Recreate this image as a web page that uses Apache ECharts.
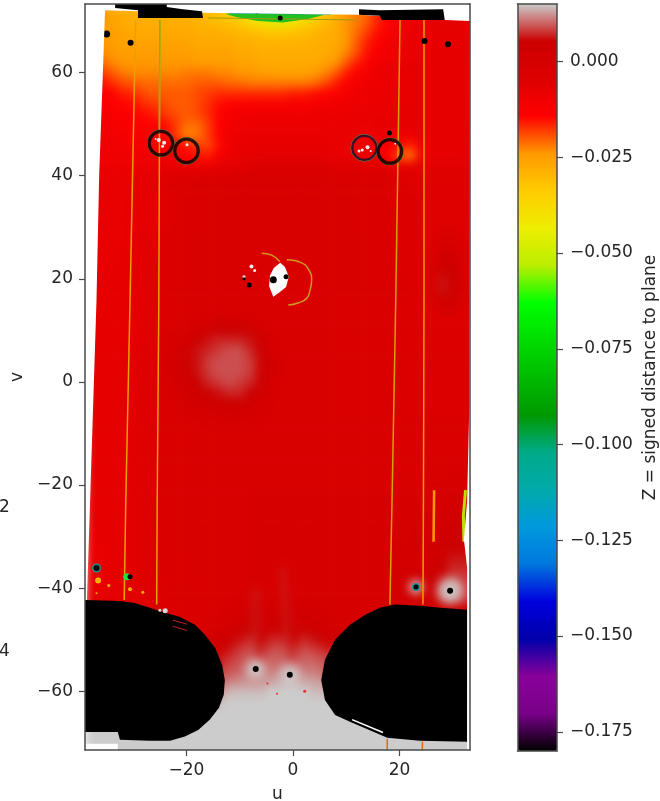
<!DOCTYPE html>
<html><head><meta charset="utf-8">
<style>html,body{margin:0;padding:0;background:#fff}#c{width:660px;height:801px}</style>
<script src="https://cdn.jsdelivr.net/npm/echarts@6/dist/echarts.min.js"></script>
</head><body><div id="c"></div>
<script>
// Tick labels
const uTicks=[-20,0,20];
const vTicks=[-60,-40,-20,0,20,40,60];
const zTicks=[-0.175,-0.15,-0.125,-0.1,-0.075,-0.05,-0.025,0];
// Z field, in thousandths. Columns are u=-38,-36..34; rows v=72,70..-76
const uStart=-38, vStart=72, cellStep=2;
const zMilli=[
[-24,-24,-26,-27,-28,-28,-28,-28,-28,-28,-29,-30,-32,-34,-36,-40,-44,-48,-48,-44,-40,-36,-32,-28,-24,-22,-20,-16,-13,-11,-9,-8,-7,-7,-7,-7,-7],
[-24,-24,-26,-27,-28,-28,-28,-28,-28,-28,-29,-30,-31,-32,-34,-38,-42,-46,-46,-42,-38,-34,-31,-28,-24,-22,-20,-16,-13,-11,-9,-8,-7,-7,-7,-7,-7],
[-24,-24,-25,-26,-27,-27,-27,-27,-27,-27,-28,-28,-28,-29,-30,-31,-32,-33,-33,-32,-31,-30,-28,-27,-24,-21,-18,-15,-12,-10,-9,-8,-7,-7,-7,-7,-7],
[-24,-24,-25,-26,-26,-26,-26,-26,-26,-26,-27,-27,-27,-27,-28,-28,-29,-29,-29,-29,-29,-28,-28,-27,-24,-20,-16,-13,-11,-9,-8,-8,-7,-7,-7,-7,-7],
[-23,-23,-24,-25,-25,-25,-25,-25,-25,-25,-26,-26,-26,-26,-27,-27,-28,-28,-28,-28,-28,-28,-27,-26,-23,-19,-15,-12,-10,-9,-8,-8,-7,-7,-7,-7,-7],
[-21,-21,-23,-24,-24,-24,-24,-24,-24,-24,-25,-25,-25,-25,-26,-26,-27,-27,-27,-27,-27,-27,-26,-24,-20,-16,-13,-11,-9,-8,-8,-7,-7,-7,-7,-7,-7],
[-18,-18,-20,-22,-23,-23,-23,-23,-23,-22,-22,-22,-23,-23,-24,-24,-25,-26,-26,-26,-26,-25,-23,-20,-16,-13,-11,-9,-8,-8,-7,-7,-7,-7,-7,-7,-7],
[-15,-15,-17,-19,-20,-21,-21,-21,-21,-21,-20,-20,-20,-21,-21,-22,-22,-22,-22,-22,-22,-21,-19,-16,-13,-11,-10,-9,-8,-8,-7,-7,-7,-7,-7,-7,-7],
[-13,-13,-14,-16,-17,-19,-20,-20,-20,-20,-19,-18,-17,-17,-17,-17,-17,-17,-17,-16,-16,-15,-14,-13,-11,-10,-9,-9,-8,-8,-7,-7,-7,-7,-7,-7,-7],
[-12,-12,-13,-14,-15,-17,-18,-19,-20,-20,-19,-17,-15,-14,-13,-13,-12,-12,-12,-12,-12,-11,-11,-10,-10,-9,-9,-8,-8,-8,-7,-7,-7,-7,-7,-7,-7],
[-11,-11,-12,-13,-14,-15,-16,-18,-19,-20,-19,-17,-14,-12,-11,-10,-10,-10,-10,-10,-10,-10,-9,-9,-9,-8,-8,-8,-8,-7,-7,-7,-7,-7,-7,-7,-7],
[-10,-10,-11,-12,-13,-13,-14,-15,-18,-21,-21,-18,-14,-11,-10,-9,-9,-9,-9,-9,-9,-9,-8,-8,-8,-8,-8,-7,-7,-7,-7,-7,-7,-7,-7,-7,-7],
[-10,-10,-11,-11,-12,-12,-13,-14,-18,-23,-22,-18,-14,-10,-9,-8,-8,-8,-8,-8,-8,-8,-8,-8,-8,-8,-9,-9,-9,-9,-9,-7,-7,-7,-7,-7,-7],
[-10,-10,-10,-11,-11,-11,-11,-11,-12,-16,-18,-19,-15,-10,-8,-7,-7,-7,-7,-7,-7,-7,-7,-8,-8,-8,-10,-10,-12,-14,-16,-10,-7,-7,-7,-7,-7],
[-10,-10,-10,-10,-10,-10,-10,-10,-12,-14,-15,-16,-12,-9,-8,-7,-7,-7,-7,-7,-7,-7,-7,-8,-8,-8,-9,-10,-14,-20,-22,-11,-7,-7,-7,-7,-7],
[-9,-9,-9,-9,-9,-9,-8,-8,-8,-9,-9,-9,-8,-7,-6,-5,-4,-4,-4,-4,-4,-4,-4,-5,-5,-5,-6,-6,-7,-8,-8,-7,-6,-6,-6,-6,-6],
[-8,-8,-8,-8,-8,-7,-6,-5,-4,-4,-4,-3,-3,-3,-3,-2,-2,-2,-2,-2,-2,-2,-2,-3,-3,-3,-3,-3,-4,-4,-5,-5,-5,-5,-5,-5,-5],
[-8,-8,-8,-8,-8,-7,-6,-5,-4,-4,-3,-3,-3,-2,-2,-2,-2,-2,-2,-2,-2,-2,-2,-2,-3,-3,-3,-3,-4,-4,-5,-5,-5,-5,-5,-5,-5],
[-8,-8,-8,-8,-7,-7,-6,-5,-4,-3,-3,-3,-2,-2,-2,-2,-2,-2,-2,-2,-2,-2,-2,-2,-2,-3,-3,-3,-3,-4,-4,-5,-5,-5,-5,-5,-5],
[-8,-8,-8,-8,-7,-7,-6,-5,-4,-3,-3,-2,-2,-2,-2,-2,-2,-2,-2,-2,-2,-2,-2,-2,-2,-3,-3,-3,-3,-4,-4,-5,-5,-5,-5,-5,-5],
[-8,-8,-8,-8,-7,-7,-6,-5,-4,-3,-3,-2,-2,-2,-2,-2,-2,-2,-2,-2,-2,-2,-2,-2,-2,-3,-3,-3,-3,-4,-4,-5,-5,-5,-5,-5,-5],
[-8,-8,-8,-8,-7,-7,-6,-5,-3,-3,-3,-2,-2,-2,-2,-2,-2,-2,-2,-2,-2,-2,-2,-2,-2,-3,-3,-3,-3,-4,-4,-5,-5,-5,-5,-5,-5],
[-8,-8,-8,-8,-7,-6,-5,-4,-3,-3,-2,-2,-2,-2,-2,-2,-2,-2,-2,-2,-2,-2,-2,-2,-2,-2,-3,-3,-3,-4,-4,-5,-5,-3,-3,-5,-5],
[-8,-8,-8,-7,-7,-6,-5,-4,-3,-3,-2,-2,-2,-2,-2,-2,-2,-2,-2,-2,-2,-2,-2,-2,-2,-2,-3,-3,-3,-4,-4,-5,-4,0,0,-4,-4],
[-8,-8,-8,-7,-7,-6,-5,-4,-3,-3,-2,-2,-2,-2,-2,-2,-2,-2,-2,-2,-2,-2,-2,-2,-2,-2,-3,-3,-3,-4,-4,-5,-3,3,3,-3,-3],
[-8,-8,-7,-7,-7,-6,-5,-4,-3,-3,-2,-2,-2,-2,-2,-2,-2,-2,-2,-2,-2,-2,-2,-2,-2,-2,-3,-3,-3,-4,-4,-4,-3,5,4,-2,-2],
[-8,-8,-7,-7,-7,-6,-5,-4,-3,-3,-2,-2,-2,-2,-2,-2,-2,-2,-2,-2,-2,-2,-2,-2,-2,-2,-3,-3,-3,-3,-4,-4,-3,6,5,-2,-2],
[-7,-7,-7,-7,-7,-6,-5,-4,-3,-3,-2,-2,-2,-2,-2,-2,-2,-2,-2,-2,-2,-2,-2,-2,-2,-2,-3,-3,-3,-3,-4,-4,-3,6,4,-2,-2],
[-7,-7,-7,-7,-7,-6,-5,-4,-3,-3,-2,-2,-2,-2,-2,-2,-2,-2,-2,-2,-2,-2,-2,-3,-3,-3,-3,-3,-3,-3,-4,-4,-3,4,3,-3,-3],
[-7,-7,-7,-7,-7,-6,-5,-4,-3,-3,-2,-2,-2,-2,-2,-2,-2,-2,-2,-2,-2,-2,-2,-3,-3,-3,-3,-3,-3,-4,-4,-5,-4,0,0,-4,-4],
[-7,-7,-7,-7,-7,-6,-5,-4,-3,-2,-1,0,1,1,1,0,-1,-2,-2,-2,-2,-2,-2,-3,-3,-3,-3,-3,-4,-4,-4,-5,-5,-5,-5,-5,-5],
[-7,-7,-7,-7,-7,-6,-5,-3,-2,0,2,3,4,5,5,3,1,-1,-2,-2,-2,-2,-2,-3,-3,-3,-3,-3,-3,-3,-4,-4,-4,-4,-4,-4,-4],
[-7,-7,-7,-7,-7,-6,-4,-2,0,2,4,6,7,7,7,6,3,0,-2,-2,-2,-2,-2,-3,-3,-3,-3,-3,-3,-3,-4,-4,-4,-4,-4,-4,-4],
[-7,-7,-7,-7,-6,-5,-4,-2,1,3,6,7,8,9,9,7,4,1,-2,-2,-2,-2,-2,-3,-3,-3,-3,-3,-3,-3,-4,-4,-4,-4,-4,-4,-4],
[-7,-7,-7,-7,-6,-5,-4,-1,2,4,6,8,9,9,9,8,5,2,-1,-2,-2,-2,-2,-3,-3,-3,-3,-3,-3,-3,-4,-4,-4,-4,-4,-4,-4],
[-7,-7,-7,-7,-6,-5,-4,-1,2,4,6,8,9,9,9,8,5,2,-1,-2,-2,-2,-2,-3,-3,-3,-3,-3,-3,-3,-4,-4,-4,-4,-4,-4,-4],
[-7,-7,-7,-7,-6,-5,-4,-2,1,3,5,7,8,9,8,7,4,1,-2,-2,-2,-2,-2,-3,-3,-3,-3,-3,-3,-3,-4,-4,-4,-4,-4,-4,-4],
[-7,-7,-7,-7,-6,-5,-4,-2,0,2,4,5,6,7,7,5,3,0,-2,-2,-2,-2,-2,-3,-3,-3,-3,-3,-3,-3,-4,-4,-4,-4,-4,-4,-4],
[-7,-7,-7,-7,-6,-5,-4,-3,-1,1,2,3,4,4,4,3,1,-1,-2,-2,-2,-2,-2,-3,-3,-3,-3,-3,-3,-3,-4,-4,-4,-4,-4,-4,-4],
[-7,-7,-7,-7,-6,-5,-4,-3,-2,-1,0,1,1,2,2,1,0,-1,-2,-2,-2,-2,-2,-3,-3,-3,-3,-3,-3,-3,-4,-4,-4,-4,-4,-4,-4],
[-7,-7,-7,-7,-6,-5,-4,-3,-3,-2,-2,-1,-1,0,0,-1,-1,-2,-2,-2,-2,-2,-2,-2,-2,-2,-2,-2,-3,-3,-3,-3,-3,-3,-3,-3,-3],
[-7,-7,-7,-7,-6,-5,-4,-3,-3,-3,-2,-2,-2,-2,-2,-2,-2,-2,-2,-2,-2,-2,-2,-2,-2,-2,-2,-2,-3,-3,-3,-3,-3,-3,-3,-3,-3],
[-7,-7,-7,-7,-6,-5,-4,-3,-3,-3,-2,-2,-2,-2,-2,-2,-2,-2,-2,-2,-2,-2,-2,-2,-2,-2,-2,-2,-3,-3,-3,-3,-3,-3,-3,-3,-3],
[-7,-7,-7,-7,-6,-5,-4,-3,-3,-3,-2,-2,-2,-2,-2,-2,-2,-2,-2,-2,-2,-2,-2,-2,-2,-2,-2,-2,-3,-3,-3,-3,-3,-3,-3,-3,-3],
[-7,-7,-7,-7,-6,-5,-4,-3,-3,-3,-2,-2,-2,-2,-2,-2,-2,-2,-2,-2,-2,-2,-2,-2,-2,-2,-2,-2,-3,-3,-3,-3,-3,-2,-2,-2,-2],
[-7,-7,-7,-7,-6,-5,-4,-3,-3,-3,-2,-2,-2,-2,-2,-2,-2,-2,-2,-2,-2,-2,-2,-2,-2,-2,-2,-2,-2,-2,-2,-2,-2,-2,-1,-1,-1],
[-7,-7,-7,-7,-6,-5,-4,-3,-3,-3,-2,-2,-2,-2,-2,-2,-2,-2,-2,-2,-2,-2,-2,-2,-2,-2,-2,-2,-2,-2,-2,-2,-1,-1,-1,-1,-1],
[-7,-7,-7,-7,-6,-5,-4,-3,-3,-2,-2,-2,-2,-2,-2,-1,-1,-1,-1,-1,-1,-1,-1,-1,-1,-1,-1,-1,-1,-1,-1,-1,-1,0,0,0,0],
[-7,-7,-7,-7,-6,-5,-4,-3,-3,-2,-2,-2,-2,-2,-2,-1,-1,-1,-1,-1,-1,-1,-1,-1,-1,-1,-1,-1,-1,-1,-1,-1,0,0,1,1,1],
[-7,-7,-7,-7,-6,-5,-4,-3,-3,-2,-2,-2,-2,-2,-2,-1,-1,-1,-1,-1,-1,-1,-1,-1,-1,-1,-1,-1,-1,-1,0,0,0,1,2,2,2],
[-7,-7,-7,-7,-6,-5,-4,-3,-3,-2,-2,-2,-2,-2,-2,-1,-1,-1,-1,-1,-1,-1,-1,-1,-1,-1,-1,-1,-1,0,0,1,1,2,3,3,3],
[-7,-7,-7,-7,-6,-5,-4,-3,-3,-2,-2,-2,-2,-2,-2,-1,-1,-1,-1,-1,-1,-1,-1,-1,-1,-1,-1,-1,-1,0,0,1,1,3,4,4,4],
[-8,-8,-7,-7,-6,-5,-4,-3,-3,-2,-2,-2,-2,-2,-2,-1,-1,-1,-1,-1,-1,-1,-1,-1,-1,-1,-1,-1,0,0,1,1,2,3,5,5,5],
[-8,-8,-7,-7,-6,-5,-4,-3,-3,-3,-2,-2,-2,-2,-2,-1,-1,-1,-1,-1,-1,-1,-1,-1,-1,-1,-1,-1,0,0,1,2,2,4,6,6,6],
[-8,-8,-7,-7,-6,-5,-4,-3,-3,-3,-2,-2,-2,-2,-2,-1,-1,-1,-1,-1,-1,-1,-1,-1,-1,-1,-1,-1,0,1,1,2,3,5,7,7,7],
[-8,-8,-7,-7,-6,-5,-4,-4,-3,-3,-3,-2,-2,-2,-2,-1,-1,-1,-1,-1,-1,-1,-1,-1,-1,-1,-1,-1,0,1,2,3,4,6,8,8,8],
[-8,-8,-7,-7,-6,-5,-4,-4,-3,-3,-3,-2,-2,-2,-2,-1,-1,-1,-1,-1,-1,-1,-1,-1,-1,-1,-1,-1,0,1,2,3,4,6,8,8,8],
[-6,-6,-6,-6,-6,-5,-4,-4,-3,-3,-3,-3,-3,-2,-1,0,0,0,0,0,0,0,0,-1,-1,-1,-1,-1,0,1,2,3,4,6,8,8,8],
[-5,-5,-5,-5,-5,-5,-4,-4,-3,-3,-3,-2,-2,-1,0,1,1,1,1,1,1,1,0,0,-1,-1,0,0,0,0,1,1,2,3,4,4,4],
[-3,-3,-3,-3,-3,-3,-3,-3,-3,-3,-3,-2,-1,1,2,3,2,3,3,2,3,2,1,0,-1,-1,-1,0,0,0,0,0,0,0,0,0,0],
[-2,-2,-2,-2,-2,-2,-2,-2,-2,-2,-2,-1,1,2,4,5,3,5,5,3,5,4,3,1,0,-1,-1,-1,-1,-1,-1,-1,-1,-1,-1,-1,-1],
[0,0,0,0,0,0,0,0,0,0,0,1,3,5,6,7,5,7,7,5,7,6,5,3,2,1,1,1,1,1,1,1,1,1,1,1,1],
[2,2,2,2,2,2,2,2,2,2,2,3,4,6,8,9,7,9,9,7,9,8,7,6,5,4,4,4,4,4,4,4,4,4,4,4,4],
[5,5,5,5,5,5,5,5,5,5,5,5,6,8,9,10,9,10,10,9,10,10,9,8,7,6,6,6,6,6,6,6,6,6,6,6,6],
[7,7,7,7,7,7,7,7,7,7,7,7,8,9,10,11,10,11,11,10,11,11,10,9,9,9,9,9,9,9,9,9,9,9,9,9,9],
[9,9,9,9,9,9,9,9,9,9,9,9,10,11,12,12,12,13,13,13,13,13,12,11,11,11,11,11,11,11,11,11,11,11,11,11,11],
[11,11,11,11,11,11,11,11,11,11,11,11,12,14,14,14,14,15,15,15,15,14,14,13,13,13,13,13,13,13,13,13,13,13,13,13,13],
[14,14,14,14,14,14,14,14,14,14,14,14,14,15,15,15,16,16,16,16,16,16,15,15,15,15,15,15,15,15,15,15,15,15,15,15,15],
[16,16,16,16,16,16,16,16,16,16,16,16,16,16,16,16,16,16,16,16,16,16,16,16,16,16,16,16,16,16,16,16,16,16,16,16,16],
[16,16,16,16,16,16,16,16,16,16,16,16,16,16,16,16,16,16,16,16,16,16,16,16,16,16,16,16,16,16,16,16,16,16,16,16,16],
[16,16,16,16,16,16,16,16,16,16,16,16,16,16,16,16,16,16,16,16,16,16,16,16,16,16,16,16,16,16,16,16,16,16,16,16,16],
[16,16,16,16,16,16,16,16,16,16,16,16,16,16,16,16,16,16,16,16,16,16,16,16,16,16,16,16,16,16,16,16,16,16,16,16,16],
[16,16,16,16,16,16,16,16,16,16,16,16,16,16,16,16,16,16,16,16,16,16,16,16,16,16,16,16,16,16,16,16,16,16,16,16,16],
[16,16,16,16,16,16,16,16,16,16,16,16,16,16,16,16,16,16,16,16,16,16,16,16,16,16,16,16,16,16,16,16,16,16,16,16,16],
[16,16,16,16,16,16,16,16,16,16,16,16,16,16,16,16,16,16,16,16,16,16,16,16,16,16,16,16,16,16,16,16,16,16,16,16,16]
];
// Colour scale (nipy_spectral)
const spectral=['#000000','#780088','#880099','#0000aa','#0000dd','#0077dd','#0099dd','#00aaaa','#00aa88','#009900','#00bb00','#00dd00','#00ff00','#bbee00','#eeee00','#ffcc00','#ff9900','#ff0000','#dd0000','#cc0000','#cccccc'];
// Outline of the no-data areas, in (u,v)
const noDataTopLeft=[[-39.06,73.3],[33.24,73.3],[33.24,70],[28.5,70.2],[12.2,71.2],[-16.9,71.6],[-35.3,72.1],[-35.7,60],[-36.4,40],[-36.9,15.9],[-38.1,-22.9],[-38.7,-42.3],[-39.06,-42.3]];
const noDataRight=[[33.24,70],[33.24,-71.4],[32.7,-71.4],[32.7,-44],[32.7,-36],[32.1,-30.6],[32.7,-23],[33.1,-5]];
const noDataCorner=[[-39.06,-70.2],[-32.9,-70.2],[-32.9,-71.4],[-39.06,-71.4]];
const lensWhite=[[-2.4,23.1],[-1.5,22.3],[-0.8,20.4],[-1.3,18.4],[-2.4,17.5],[-3.7,16.5],[-4.5,18.6],[-4.3,20.7],[-3.6,22.1]];
// Regions below the colour range
const blobLeft=[[-39.06,-42.3],[-32.5,-42.5],[-29.7,-42.9],[-26.9,-43.8],[-24,-44.8],[-21.2,-45.6],[-18.4,-47.1],[-16.5,-49.1],[-14.6,-51.6],[-13.3,-54.9],[-12.8,-57.8],[-13,-60.7],[-13.9,-63.2],[-15.6,-65.5],[-17.8,-67.5],[-20.3,-68.8],[-23.1,-69.6],[-26.9,-69.6],[-32.5,-69.4],[-32.9,-67.9],[-39.06,-67.9]];
const blobRight=[[32.7,-44.2],[27.6,-43.8],[23.8,-43.4],[19.2,-43.2],[16.3,-43.8],[13.5,-45.2],[10.7,-47.1],[7.9,-50],[6,-53.9],[5.3,-57.8],[6,-61.7],[7.9,-64.6],[10.7,-65.9],[17.7,-69],[23.8,-69.6],[32.7,-69.8]];
const stripLeft=[[-33.4,73.3],[-33.4,72.5],[-29.1,72.1],[-29.1,70.6],[-16.9,70.6],[-17.1,71.9],[-20.7,72.3],[-23.7,72.7],[-23.7,73.3]];
const stripRight=[[12.4,72.3],[12.4,71.2],[16.3,71],[16.7,70.2],[28.5,70.2],[28.2,72.3],[16.3,72.1]];
const crescent=[[-12.8,71.4],[-4.3,71.5],[6,71.2],[2.8,70.4],[-1.9,69.7],[-6.6,70],[-10.7,70.8]];
// Seams and streaks
const seamA=[[-29.54,70.2],[-30.6,15.9],[-31.4,-22.9],[-31.7,-42.3]];
const seamB=[[-25,70.2],[-25.2,15.9],[-25.5,-22.9],[-25.6,-43.2]];
const seamBTop=[[-25,70.2],[-25.1,48]];
const seamC=[[20.1,70.2],[19.3,15.9],[18.6,-22.9],[18.2,-43.2]];
const seamD=[[24.6,70.2],[24.6,15.9],[24.5,-22.9],[24.4,-43.2]];
const streakE=[[26.5,-21],[26.4,-31]];
const streakEdge=[[32.4,-21],[32,-26],[32.1,-31]];
const tailC=[[17.7,-69.2],[17.7,-71.4]];
const tailD=[[24.3,-69.8],[24.3,-71.4]];
const plumeA=[[-7,-40],[-7,-54]];
const plumeB=[[-2,-36],[-0.7,-54]];
const rimTop=[[-12,71.5],[7,71.3]];
const rimLow=[[-16,70.6],[12,70.2]];
const edgeStreak=[[11.1,-65.5],[16.9,-68]];
const blobStreak=[[-22.6,-46.2],[-19.9,-47]];
const blobStreak2=[[-22.6,-47.4],[-19.9,-48.2]];
const arcLeft=[[-5.88,24.96],[-4,24.6],[-2.44,23.3]];
const arcRight=[[-1.18,23.7],[1.63,23.1],[3,21.7],[3.5,19.8],[3.2,17.8],[2.57,16.2],[0.94,15.3],[-0.88,14.9]];
// Rings: u, v
const rings=[[-24.8,46.3],[-20,44.8],[18.2,44.7]];
const ringThin=[[13.4,45.4]];
// Dots: u, v, diameter
const blackDots=[[-35,67.5,7],[-30.5,65.8,6],[24.7,66.1,6],[29.1,65.5,6],[-7,-55.7,6],[-0.6,-56.8,6],[29.5,-40.5,6],[23.1,-39.8,5],[-36.9,-36.1,6],[-30.6,-37.8,5],[-3.7,19.8,7],[-1.3,20.4,5],[-8.2,18.8,5],[-9.2,20,3],[-2.4,70.6,5],[-6.8,71.8,4],[18.1,48.3,5]];
const halos=[[-7,-55.7,20],[-0.6,-56.8,22],[29.5,-40.5,26],[23.1,-39.8,14]];
const tealDots=[[-36.9,-36.1,9],[23.1,-39.8,8]];
const greenDots=[[-31.2,-37.8,7]];
const whiteSpecks=[[-25.2,46.9,4],[-24.2,46.4,4],[-24.5,45.7,3],[-25.8,47.1,2],[-19.9,46,3],[13,45,3],[14,45.5,4],[12.4,44.8,3],[14.6,44.8,2],[19.2,46.2,2],[-7.8,22.4,4],[-7.2,21.6,3],[-9.2,20.4,3]];
const edgeSpecks=[[-24,-44.4,5],[-25,-44.3,3]];
const amberSpecks=[[-36.6,-38.5,6],[-34.6,-39.5,3],[-30.6,-40.2,4],[-28.2,-40.8,3],[-36.9,-41,2]];
const redSpecks=[[-4.8,-58.5,2],[2.2,-60,3],[-3,-60.5,2]];

const xMin=-39.06,xMax=33.24,yMin=-71.4,yMax=73.3,zMin=-0.18,zMax=0.015;
const textCol='#262626',frameCol='#4a4a4a',fontFam='"DejaVu Sans",sans-serif',fontPx=17;
const FIELD=0,MARKS=1,AXES=2;

const cells=[];
zMilli.forEach((row,j)=>row.forEach((z,i)=>cells.push([uStart+i*cellStep,vStart-j*cellStep,z/1000])));

function poly(points,fill,z){
  return {type:'custom',coordinateSystem:'cartesian2d',xAxisIndex:0,yAxisIndex:0,clip:true,z:z,zlevel:MARKS,silent:true,data:points,
    renderItem:(p,api)=>p.dataIndex!==0?null:{type:'polygon',shape:{points:points.map(q=>api.coord(q))},style:{fill:fill},silent:true}};
}
function seam(points,color,w,z,smooth,level){
  return {type:'line',xAxisIndex:0,yAxisIndex:0,data:points,showSymbol:false,symbol:'none',silent:true,smooth:!!smooth,z:z,zlevel:level===undefined?MARKS:level,clip:true,
    lineStyle:{color:color,width:w},animation:false};
}
function dots(points,color,z,opacity,level){
  return {type:'scatter',xAxisIndex:0,yAxisIndex:0,data:points,symbolSize:d=>d[2],silent:true,z:z,zlevel:level===undefined?MARKS:level,clip:true,
    itemStyle:{color:color,opacity:opacity===undefined?1:opacity}};
}
function ring(points,size,color,w,z){
  return {type:'scatter',xAxisIndex:0,yAxisIndex:0,data:points,symbolSize:size,silent:true,z:z,zlevel:MARKS,clip:true,
    itemStyle:{color:'rgba(0,0,0,0)',borderColor:color,borderWidth:w}};
}
const axisText={color:textCol,fontFamily:fontFam,fontSize:fontPx};
const fmtMinus=v=>String(v).replace('-','\u2212');
const frameLine={onZero:false,lineStyle:{color:frameCol,width:1.5}};
const bare={zlevel:AXES,z:20,splitLine:{show:false},axisLine:frameLine,axisTick:{show:false},axisLabel:{show:false}};

const option={
  animation:false,
  backgroundColor:'#fff',
  grid:[{left:85,top:4,width:385,height:746,show:false,outerBoundsMode:'none'},
        {left:517.5,top:4,width:39.5,height:747,show:false,outerBoundsMode:'none'}],
  xAxis:[
    {gridIndex:0,type:'value',min:xMin,max:xMax,position:'bottom',name:'u',nameLocation:'middle',nameGap:36,nameTextStyle:axisText,
     ...bare,axisTick:{length:6,customValues:uTicks,lineStyle:{color:frameCol,width:1.2}},axisLabel:{...axisText,margin:12,customValues:uTicks,formatter:fmtMinus}},
    {gridIndex:0,type:'value',min:xMin,max:xMax,position:'top',...bare},
    {gridIndex:1,type:'value',min:0,max:1,position:'bottom',...bare},
    {gridIndex:1,type:'value',min:0,max:1,position:'top',...bare}
  ],
  yAxis:[
    {gridIndex:0,type:'value',min:yMin,max:yMax,position:'left',name:'v',nameLocation:'middle',nameGap:54,nameRotate:90,nameTextStyle:axisText,
     ...bare,axisTick:{length:6,customValues:vTicks,lineStyle:{color:frameCol,width:1.2}},axisLabel:{...axisText,margin:12,customValues:vTicks,formatter:fmtMinus}},
    {gridIndex:0,type:'value',min:yMin,max:yMax,position:'right',...bare},
    {gridIndex:1,type:'value',min:zMin,max:zMax,position:'right',name:'Z = signed distance to plane',nameLocation:'middle',nameGap:85,nameRotate:90,nameTextStyle:axisText,
     ...bare,axisTick:{length:6,customValues:zTicks,lineStyle:{color:frameCol,width:1.2}},axisLabel:{...axisText,margin:13,customValues:zTicks,formatter:v=>fmtMinus(Number(v).toFixed(3))}},
    {gridIndex:1,type:'value',min:zMin,max:zMax,position:'left',...bare}
  ],
  visualMap:{type:'continuous',seriesIndex:0,dimension:2,min:zMin,max:zMax,calculable:false,hoverLink:false,zlevel:MARKS,
    left:518,top:4,itemWidth:39,itemHeight:747,padding:0,text:null,showLabel:false,inRange:{color:spectral},textStyle:{color:'rgba(0,0,0,0)',fontSize:1}},
  graphic:[
    {type:'text',zlevel:AXES,left:-1,top:499,silent:true,style:{text:'2',fill:textCol,font:fontPx+'px "DejaVu Sans"'}},
    {type:'text',zlevel:AXES,left:-1,top:643,silent:true,style:{text:'4',fill:textCol,font:fontPx+'px "DejaVu Sans"'}}
  ],
  series:[
    {type:'custom',coordinateSystem:'cartesian2d',xAxisIndex:0,yAxisIndex:0,clip:false,z:1,zlevel:FIELD,silent:true,data:cells,encode:{x:0,y:1},
     renderItem:(p,api)=>{
       const c=api.coord([api.value(0),api.value(1)]),s=api.size([cellStep,cellStep]);
       return {type:'rect',shape:{x:c[0]-s[0]/2,y:c[1]-s[1]/2,width:s[0]+0.6,height:s[1]+0.6},style:{fill:api.visual('color')},silent:true};
     }},
    dots(halos,'#cfc6c6',2,0.95,FIELD),
    seam(plumeA,'#c43030',3,2,false,FIELD),
    seam(plumeB,'#c43030',3,2,false,FIELD),
    seam(seamA,'#eaa000',1.5,3),
    seam(seamB,'#eaa000',1.5,3),
    seam(seamBTop,'#8fae1a',1.5,3),
    seam(seamC,'#d8a000',1.5,3),
    seam(seamD,'#eaa000',1.5,3),
    seam(streakE,'#ff9a00',2.5,3),
    seam(streakEdge,'#b8e000',3,3),
    seam(tailC,'#ee6600',1.5,3),
    seam(tailD,'#ee6600',1.5,3),
    seam(arcLeft,'#cf9a20',1.5,4,true),
    seam(arcRight,'#cf9a20',1.5,4,true),
    poly(crescent,'#22c020',4),
    seam(rimTop,'#1c9c9c',1,4),
    seam(rimLow,'#a09a10',1,4),
    ring(rings,27,'#3a8a50',1,4),
    ring(ringThin,27,'#3a8a50',1,4),
    ring(rings,23.5,'#000000',3.2,5),
    ring(ringThin,24,'#101030',2.2,5),
    poly(lensWhite,'#ffffff',5),
    dots(tealDots,'#1f8f8f',5),
    dots(greenDots,'#20e040',5),
    dots(amberSpecks,'#ffb000',5),
    dots(redSpecks,'#e03030',5),
    dots(whiteSpecks,'#f2eeee',6),
    dots(blackDots,'#000000',7),
    poly(blobLeft,'#000000',8),
    poly(blobRight,'#000000',8),
    dots(edgeSpecks,'#d8d8d8',9),
    seam(blobStreak,'#c02020',1,9),
    seam(blobStreak2,'#c02020',1,9),
    seam(edgeStreak,'#ffffff',1.5,9),
    poly(noDataTopLeft,'#ffffff',10),
    poly(noDataRight,'#ffffff',10),
    poly(noDataCorner,'#ffffff',10),
    poly(stripLeft,'#000000',11),
    poly(stripRight,'#000000',11)
  ]
};
const chart=echarts.init(document.getElementById('c'),null,{renderer:'canvas'});
chart.setOption(option);
// The reference's field is smooth: soften the field layer only and keep it inside the plot frame.
const layers=document.querySelectorAll('#c canvas');
layers[0].style.filter='blur(5px)';
layers[0].style.clipPath='inset(4px 190px 51px 85px)';
if(layers[1]) layers[1].style.filter='blur(0.5px)';
</script></body></html>
